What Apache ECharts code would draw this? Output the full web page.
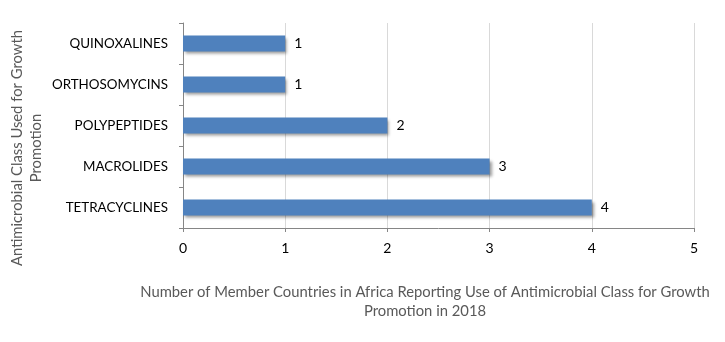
<!DOCTYPE html>
<html><head><meta charset="utf-8">
<script src="https://cdn.jsdelivr.net/npm/echarts@6/dist/echarts.min.js"></script>
<style>html,body{margin:0;padding:0;background:#fff}#c{width:725px;height:342px}</style>
</head><body><div id="c"></div>
<script>
const categories = ['TETRACYCLINES','MACROLIDES','POLYPEPTIDES','ORTHOSOMYCINS','QUINOXALINES'];
const values = [4,3,2,1,1];
const xTicks = [0,1,2,3,4,5];
const xTitle = 'Number of Member Countries in Africa Reporting Use of Antimicrobial Class for Growth\nPromotion in 2018';
const yTitle = 'Antimicrobial Class Used for Growth\nPromotion';
const FONT = 'Lato';
const chart = echarts.init(document.getElementById('c'));
chart.setOption({
  animation:false,
  grid:{left:183,right:31,top:23,bottom:114,containLabel:false,outerBoundsMode:'none'},
  xAxis:{type:'value',min:xTicks[0],max:xTicks[xTicks.length-1],interval:1,
    axisLine:{show:true,lineStyle:{color:'#868686',width:1}},
    axisTick:{show:true,length:4,lineStyle:{color:'#868686'}},
    splitLine:{show:true,lineStyle:{color:'#d9d9d9'}},
    axisLabel:{color:'#000',fontFamily:FONT,fontSize:14,margin:13},
    name:xTitle,nameLocation:'middle',nameGap:55,
    nameTextStyle:{color:'#595959',fontFamily:FONT,fontSize:14.8,lineHeight:19,padding:[0,27,0,0]}
  },
  yAxis:{type:'category',data:categories,
    axisLine:{show:true,lineStyle:{color:'#868686'}},
    axisTick:{show:true,length:4,lineStyle:{color:'#868686'}},
    axisLabel:{color:'#000',fontFamily:FONT,fontSize:13.4,margin:15}
  },
  graphic:[{type:'text',x:27,y:148,rotation:Math.PI/2,
    style:{text:yTitle,fill:'#595959',font:'14.8px '+FONT,lineHeight:19,align:'center',verticalAlign:'middle'}}],
  series:[{type:'bar',data:values,barWidth:16,
    itemStyle:{color:'#4f81bd',shadowColor:'rgba(0,0,0,0.4)',shadowBlur:3,shadowOffsetX:2,shadowOffsetY:2},
    label:{show:true,position:'right',distance:9,color:'#000',fontFamily:FONT,fontSize:14}
  }]
});
</script></body></html>
